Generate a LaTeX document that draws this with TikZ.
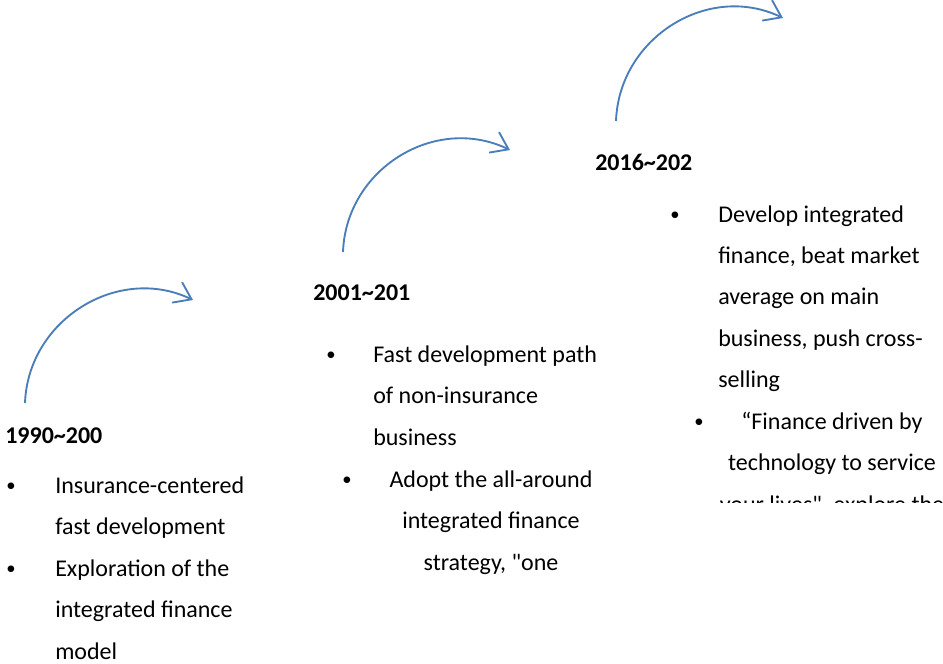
\documentclass[tikz,border=0pt]{standalone}
\usepackage{fontspec}
\setmainfont{Carlito}[Ligatures=TeXOff]
\usetikzlibrary{arrows.meta}
\definecolor{arrowblue}{HTML}{4A7EBB}
\begin{document}
\begin{tikzpicture}[x=0.75pt,y=-0.75pt,
  txt/.style={inner sep=0pt, anchor=base west, font=\fontsize{18}{22}\selectfont},
  ctxt/.style={txt, anchor=base},
  yr/.style={txt, font=\fontsize{18}{22}\selectfont\bfseries},
  bul/.style={inner sep=0pt, anchor=base west, font=\fontsize{14}{18}\selectfont},
  arr/.style={draw=arrowblue, line width=1.4pt,
    -{Straight Barb[length=12pt,width=17pt,line width=1.4pt]}}]
\useasboundingbox (0,0) rectangle (943,664);

% arrows
\coordinate (s1) at (25,403);  \coordinate (t1) at (193,300);
\coordinate (s2) at (343,252); \coordinate (t2) at (510,150);
\coordinate (s3) at (616,121); \coordinate (t3) at (783,18);
\draw[arr] (s1) .. controls +(3,-83) and +(-75,-36) .. (t1);
\draw[arr] (s2) .. controls +(3,-83) and +(-75,-36) .. (t2);
\draw[arr] (s3) .. controls +(3,-83) and +(-75,-36) .. (t3);

% block 1
\node[yr] (y1) at (5,443) {1990\textasciitilde 200};
\node[bul] (b1a) at (6,491) {•};
\node[txt] (l1a) at (55,493) {Insurance-centered};
\node[txt] (l1b) at (55,534) {fast development};
\node[bul] (b1b) at (6,574) {•};
\node[txt] (l1c) at (55,576) {Exploration of the};
\node[txt] (l1d) at (55,617) {integrated finance};
\node[txt] (l1e) at (55,659) {model};

% block 2
\node[yr] (y2) at (313,300) {2001\textasciitilde 201};
\node[bul] (b2a) at (326,360) {•};
\node[txt] (l2a) at (373,362) {Fast development path};
\node[txt] (l2b) at (373,403) {of non-insurance};
\node[txt] (l2c) at (373,445) {business};
\node[bul] (b2b) at (342,485) {•};
\node[ctxt] (l2d) at (491,487) {Adopt the all-around};
\node[ctxt] (l2e) at (491,528) {integrated finance};
\node[ctxt] (l2f) at (491,570) {strategy, "one};

% block 3
\node[yr] (y3) at (595,170) {2016\textasciitilde 202};
\node[bul] (b3a) at (670,220) {•};
\node[txt] (l3a) at (718,222) {Develop integrated};
\node[txt] (l3b) at (718,263) {finance, beat market};
\node[txt] (l3c) at (718,304) {average on main};
\node[txt] (l3d) at (718,346) {business, push cross-};
\node[txt] (l3e) at (718,387) {selling};
\node[bul] (b3b) at (694,427) {•};
\node[ctxt] (l3f) at (832,429) {“Finance driven by};
\node[ctxt] (l3g) at (832,470) {technology to service};
\begin{scope}
  \clip (600,480) rectangle (943,502);
  \node[ctxt] (l3h) at (832,512) {your lives", explore the};
\end{scope}
\end{tikzpicture}
\end{document}
